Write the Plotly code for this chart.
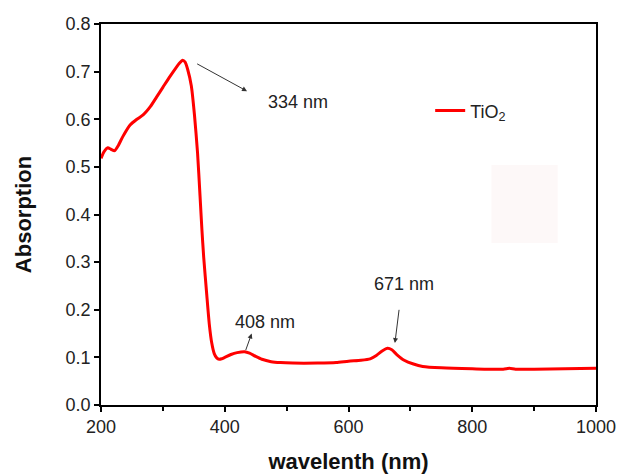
import plotly.graph_objects as go

wavelength = [200, 205, 211, 216, 222, 228, 235, 247, 258, 268, 280, 290, 300, 311, 320, 327, 332, 336, 340, 346, 351, 356, 360, 363, 366, 371, 375, 379, 383, 387, 391, 395, 400, 410, 420, 432, 440, 450, 460, 475, 490, 510, 550, 580, 600, 620, 635, 645, 655, 663, 670, 678, 690, 705, 720, 750, 800, 850, 860, 870, 900, 950, 1000]
absorption = [0.518, 0.532, 0.540, 0.537, 0.534, 0.545, 0.563, 0.588, 0.600, 0.609, 0.627, 0.647, 0.667, 0.689, 0.706, 0.718, 0.724, 0.720, 0.705, 0.670, 0.610, 0.530, 0.440, 0.370, 0.310, 0.230, 0.170, 0.130, 0.108, 0.099, 0.096, 0.097, 0.100, 0.106, 0.110, 0.112, 0.109, 0.102, 0.096, 0.091, 0.089, 0.088, 0.088, 0.089, 0.092, 0.094, 0.097, 0.104, 0.114, 0.119, 0.116, 0.106, 0.094, 0.086, 0.081, 0.078, 0.076, 0.075, 0.077, 0.075, 0.075, 0.076, 0.077]

x_ticks = [200, 400, 600, 800, 1000]
y_ticks = [0.0, 0.1, 0.2, 0.3, 0.4, 0.5, 0.6, 0.7, 0.8]

peak_labels = ["334 nm", "408 nm", "671 nm"]

font = "Liberation Sans, Arial, sans-serif"

fig = go.Figure()
fig.add_trace(go.Scatter(
    x=wavelength, y=absorption, mode="lines", name="TiO<sub>2</sub>",
    line=dict(color="#ff0000", width=3, shape="spline", smoothing=0.6),
))

axis_common = dict(
    showline=True, linecolor="black", linewidth=1.5, mirror=True,
    ticks="outside", ticklen=5, tickwidth=1.5, tickcolor="black",
    showgrid=False, zeroline=False, automargin=False,
    tickfont=dict(family=font, size=18, color="#222"),
)

fig.update_xaxes(range=[200, 1000], tickvals=x_ticks, ticktext=[str(v) for v in x_ticks],
                 minor=dict(ticks="outside", ticklen=4, tickwidth=1.5, tickcolor="black", dtick=100, tick0=200),
                 title=dict(text="<b>wavelenth (nm)</b>", font=dict(family=font, size=22, color="#111"), standoff=19),
                 **axis_common)
fig.update_yaxes(range=[0, 0.8], tickvals=y_ticks, ticktext=[f"{v:.1f}" for v in y_ticks],
                 title=dict(text="<b>Absorption</b>", font=dict(family=font, size=22, color="#111"), standoff=28),
                 **axis_common)

ann_font = dict(family=font, size=18, color="#222")
# 334 nm
fig.add_annotation(x=436, y=0.659, xref="x", yref="y", text="", showarrow=True,
                   ax=353, ay=0.718, axref="x", ayref="y", arrowhead=2, arrowsize=1,
                   arrowwidth=1, arrowcolor="#333", standoff=0)
fig.add_annotation(x=467, y=0.636, xref="x", yref="y", text=peak_labels[0], showarrow=False,
                   font=ann_font, xanchor="left", yanchor="middle")
# 408 nm
fig.add_annotation(x=443.5, y=0.150, xref="x", yref="y", text="", showarrow=True,
                   ax=433, ay=0.112, axref="x", ayref="y", arrowhead=2, arrowsize=1,
                   arrowwidth=1, arrowcolor="#333", standoff=0)
fig.add_annotation(x=414, y=0.175, xref="x", yref="y", text=peak_labels[1], showarrow=False,
                   font=ann_font, xanchor="left", yanchor="middle")
# 671 nm
fig.add_annotation(x=675, y=0.130, xref="x", yref="y", text="", showarrow=True,
                   ax=682, ay=0.203, axref="x", ayref="y", arrowhead=2, arrowsize=1,
                   arrowwidth=1, arrowcolor="#333", standoff=0)
fig.add_annotation(x=689, y=0.254, xref="x", yref="y", text=peak_labels[2], showarrow=False,
                   font=ann_font, xanchor="center", yanchor="middle")

# faint rectangle artifact
fig.add_shape(type="rect", xref="x", yref="y", x0=831, x1=938, y0=0.34, y1=0.504,
              line=dict(width=0), fillcolor="#fdf8f8", layer="below")

fig.update_layout(
    width=621, height=474,
    margin=dict(l=101, r=25, t=24, b=69),
    paper_bgcolor="white", plot_bgcolor="white",
    showlegend=True,
    legend=dict(x=0.665, y=0.772, xanchor="left", yanchor="middle",
                bgcolor="rgba(0,0,0,0)", font=dict(family=font, size=18, color="#222")),
)

fig.write_html("out.html")
